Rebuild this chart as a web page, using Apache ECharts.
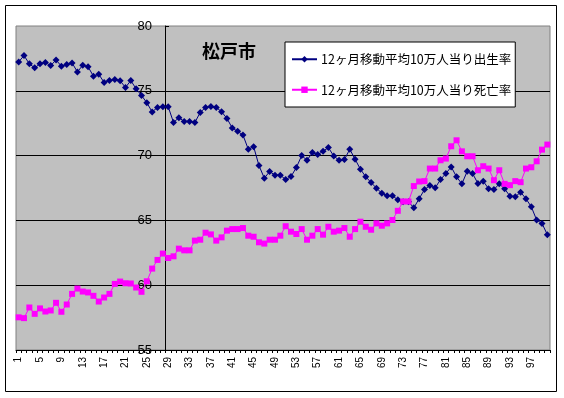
<!DOCTYPE html>
<html>
<head>
<meta charset="utf-8">
<script src="https://cdn.jsdelivr.net/npm/echarts@6/dist/echarts.min.js"></script>
<style>
  html, body { margin: 0; padding: 0; background: #fff; }
  #chart { width: 564px; height: 398px; }
</style>
</head>
<body>
<div id="chart"></div>
<script>
// categories 1..100 (month index)
var months = [];
for (var m = 1; m <= 100; m++) { months.push(String(m)); }

var birthName = '12ヶ月移動平均10万人当り出生率';
var deathName = '12ヶ月移動平均10万人当り死亡率';

// 出生率
var birthRate = [
  77.23, 77.72, 77.08, 76.77, 77.08, 77.18, 76.95, 77.38, 76.90, 77.03,
  77.15, 76.46, 76.97, 76.85, 76.13, 76.28, 75.64, 75.79, 75.87, 75.77,
  75.26, 75.79, 75.15, 74.64, 74.08, 73.37, 73.72, 73.77, 73.77, 72.56,
  72.92, 72.64, 72.64, 72.56, 73.33, 73.72, 73.79, 73.72, 73.38, 72.87,
  72.13, 71.87, 71.59, 70.49, 70.69, 69.23, 68.26, 68.77, 68.49, 68.49,
  68.15, 68.38, 69.08, 70.00, 69.64, 70.23, 70.08, 70.33, 70.62, 69.97,
  69.64, 69.69, 70.49, 69.72, 68.95, 68.36, 67.92, 67.49, 67.10, 66.90,
  66.90, 66.59, 66.44, 66.44, 65.97, 66.68, 67.38, 67.69, 67.51, 68.15,
  68.62, 69.13, 68.36, 67.82, 68.79, 68.62, 67.85, 68.03, 67.44, 67.38,
  67.82, 67.44, 66.87, 66.82, 67.18, 66.67, 66.05, 65.03, 64.77, 63.90
];

// 死亡率
var deathRate = [
  57.52, 57.46, 58.28, 57.79, 58.21, 57.97, 58.05, 58.64, 57.95, 58.51,
  59.33, 59.74, 59.51, 59.44, 59.18, 58.74, 59.05, 59.33, 60.10, 60.28,
  60.15, 60.13, 59.82, 59.49, 60.30, 61.28, 61.95, 62.44, 62.10, 62.23,
  62.82, 62.69, 62.69, 63.44, 63.51, 64.05, 63.92, 63.44, 63.69, 64.21,
  64.33, 64.33, 64.41, 63.82, 63.74, 63.31, 63.21, 63.51, 63.51, 63.82,
  64.55, 64.13, 63.95, 64.33, 63.51, 63.82, 64.33, 63.90, 64.51, 64.13,
  64.21, 64.41, 63.74, 64.33, 64.90, 64.51, 64.28, 64.77, 64.59, 64.77,
  65.03, 65.74, 66.46, 66.46, 67.65, 68.00, 68.03, 69.00, 69.00, 69.64,
  69.77, 70.72, 71.18, 70.33, 69.95, 69.95, 68.87, 69.18, 69.00, 68.10,
  68.87, 67.82, 67.72, 68.03, 67.95, 69.00, 69.10, 69.56, 70.46, 70.85
];

var myChart = echarts.init(document.getElementById('chart'));
var option = {
    animation: false,
    backgroundColor: '#ffffff',
    title: {
        text: '松戸市',
        left: 202,
        top: 42,
        padding: 0,
        textStyle: {
            fontFamily: 'Noto Sans CJK JP',
            fontSize: 18,
            fontWeight: 'bold',
            color: '#000'
        }
    },
    legend: {
        orient: 'vertical',
        left: 285,
        top: 42,
        padding: [11, 4, 11, 6],
        itemWidth: 25,
        itemHeight: 8,
        itemGap: 18,
        backgroundColor: '#fff',
        borderColor: '#000',
        borderWidth: 1,
        borderRadius: 0,
        data: [birthName, deathName],
        textStyle: {
            fontFamily: 'Noto Sans CJK JP',
            fontSize: 12.5,
            color: '#000',
            padding: [0, 0, 0, -1]
        }
    },
    grid: {
        left: 16,
        top: 26,
        right: 14,
        bottom: 48,
        show: true,
        backgroundColor: '#C0C0C0',
        borderColor: '#808080',
        borderWidth: 1,
        containLabel: false,
        outerBoundsMode: 'none'
    },
    xAxis: {
        type: 'category',
        data: months,
        boundaryGap: true,
        axisLine: { lineStyle: { color: '#000', width: 1 } },
        axisTick: { show: true, interval: 0, length: 3, lineStyle: { color: '#000' } },
        axisLabel: {
            interval: 3,
            rotate: 90,
            margin: 7,
            fontFamily: 'Liberation Sans',
            fontSize: 10,
            color: '#000'
        },
        splitLine: { show: false }
    },
    yAxis: {
        type: 'value',
        min: 55,
        max: 80,
        interval: 5,
        offset: -149,
        axisLine: { show: true, lineStyle: { color: '#000', width: 1 } },
        axisTick: { show: true, inside: true, length: 4, lineStyle: { color: '#000' } },
        axisLabel: {
            margin: 13,
            fontFamily: 'Liberation Sans',
            fontSize: 13,
            color: '#000'
        },
        splitLine: {
            show: true,
            showMinLine: false,
            showMaxLine: false,
            lineStyle: { color: '#000', width: 1 }
        }
    },
    graphic: [{
        type: 'rect',
        shape: { x: 5.5, y: 5.5, width: 551, height: 386 },
        style: { fill: 'none', stroke: '#000', lineWidth: 1 },
        silent: true
    }],
    series: [
        {
            name: birthName,
            type: 'line',
            data: birthRate,
            symbol: 'diamond',
            symbolSize: 7,
            showAllSymbol: true,
            lineStyle: { color: '#000080', width: 1 },
            itemStyle: { color: '#000080' }
        },
        {
            name: deathName,
            type: 'line',
            data: deathRate,
            symbol: 'rect',
            symbolSize: 6,
            showAllSymbol: true,
            lineStyle: { color: '#FF00FF', width: 1 },
            itemStyle: { color: '#FF00FF' }
        }
    ]
};
myChart.setOption(option);
</script>
</body>
</html>
